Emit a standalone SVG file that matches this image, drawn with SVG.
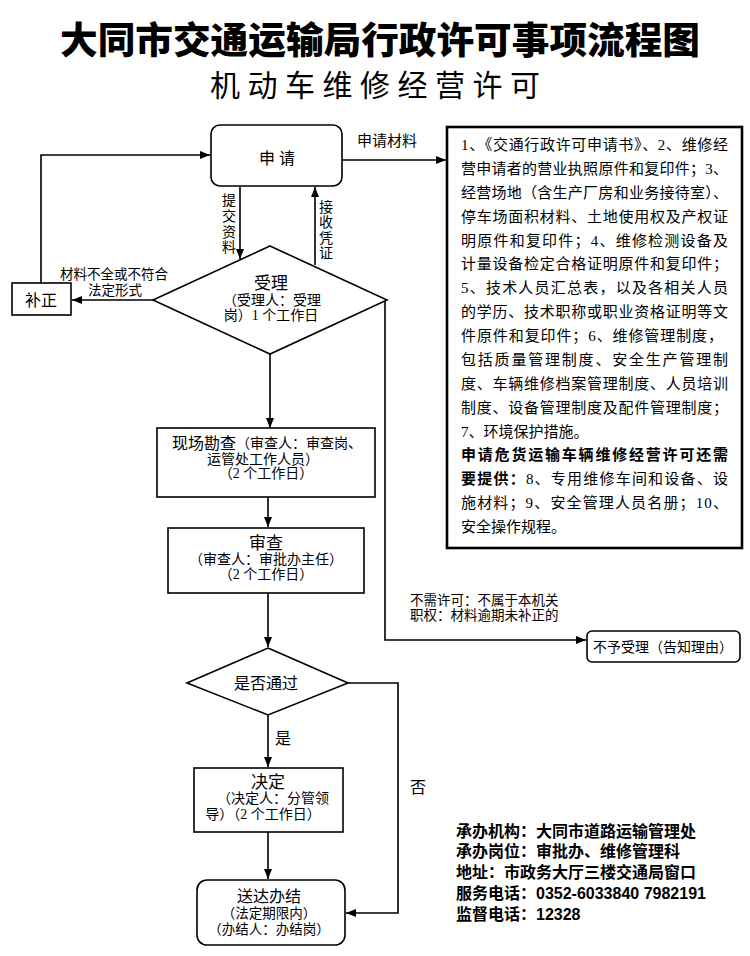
<svg xmlns="http://www.w3.org/2000/svg" width="750" height="956" viewBox="0 0 750 956">
<defs>
<marker id="arr" viewBox="0 0 10 8" refX="10" refY="4" markerWidth="10" markerHeight="8" markerUnits="userSpaceOnUse" orient="auto">
<path d="M0,0 L10,4 L0,8 z" fill="#000"/>
</marker>
</defs>
<style>
text{font-family:"Liberation Serif","Noto Sans CJK SC",serif;fill:#000;dominant-baseline:central}
.t{font-size:14px;text-anchor:middle}
.h{font-size:17px;text-anchor:middle}
.box{fill:#fff;stroke:#000;stroke-width:1.6}
.ln{fill:none;stroke:#000;stroke-width:1.6}
.ar{fill:none;stroke:#000;stroke-width:1.6;marker-end:url(#arr)}
.body{font-size:15px}
.info{font-family:"Liberation Sans","Noto Sans CJK SC",sans-serif;font-size:16px;font-weight:bold}
</style>
<rect width="750" height="956" fill="#fff"/>
<g id="title">
<text x="380" y="38" style="font-family:'Noto Sans CJK SC',sans-serif;font-size:37px;font-weight:900;text-anchor:middle" textLength="640" lengthAdjust="spacingAndGlyphs">大同市交通运输局行政许可事项流程图</text>
<text x="375" y="83" style="font-family:'Noto Sans CJK SC',sans-serif;font-size:30px;text-anchor:middle" textLength="330">机动车维修经营许可</text>
</g>
<g id="connectors">
<line class="ar" x1="342" y1="160" x2="446" y2="160"/>
<text x="387" y="141" style="font-size:15px;text-anchor:middle">申请材料</text>
<line class="ar" x1="240" y1="187" x2="240" y2="259"/>
<text class="t" x="229" y="200">提</text><text class="t" x="229" y="216">交</text><text class="t" x="229" y="232">资</text><text class="t" x="229" y="247">料</text>
<line class="ar" x1="315" y1="265" x2="315" y2="187"/>
<text class="t" x="326" y="207">接</text><text class="t" x="326" y="222">收</text><text class="t" x="326" y="238">凭</text><text class="t" x="326" y="253">证</text>
<line class="ar" x1="153" y1="300" x2="72" y2="300"/>
<text x="114" y="274" style="font-size:13.5px;text-anchor:middle">材料不全或不符合</text>
<text x="115" y="290" style="font-size:13.5px;text-anchor:middle">法定形式</text>
<polyline class="ar" points="41,283 41,155 210,155"/>
<line class="ar" x1="270" y1="354" x2="270" y2="428"/>
<polyline class="ar" points="387,300 385,300 385,640 586,640"/>
<text x="410" y="600" style="font-size:13.5px">不需许可：不属于本机关</text>
<text x="410" y="615" style="font-size:13.5px">职权：材料逾期未补正的</text>
<line class="ar" x1="268" y1="497" x2="268" y2="527"/>
<line class="ar" x1="268" y1="593" x2="268" y2="647"/>
<line class="ar" x1="268" y1="715" x2="268" y2="767"/>
<text x="283" y="738" style="font-size:16px;text-anchor:middle">是</text>
<line class="ar" x1="268" y1="832" x2="268" y2="879"/>
<polyline class="ar" points="348,683 398,683 398,913 346,913"/>
<text x="418" y="787" style="font-size:16px;text-anchor:middle">否</text>
</g>
<g id="apply">
<rect class="box" x="211" y="125" width="131" height="61" rx="9"/>
<text class="h" x="277" y="158" style="font-size:16px">申 请</text>
</g>
<g id="materials">
<rect x="447" y="127" width="295" height="421" fill="#fff" stroke="#000" stroke-width="2.6"/>
<g class="body">
<text x="461" y="145" textLength="267" lengthAdjust="spacing">1、《交通行政许可申请书》、2、维修经</text>
<text x="461" y="169" textLength="267" lengthAdjust="spacing">营申请者的营业执照原件和复印件；3、</text>
<text x="461" y="193" textLength="267" lengthAdjust="spacing">经营场地（含生产厂房和业务接待室）、</text>
<text x="461" y="217" textLength="267" lengthAdjust="spacing">停车场面积材料、土地使用权及产权证</text>
<text x="461" y="241" textLength="267" lengthAdjust="spacing">明原件和复印件；4、维修检测设备及</text>
<text x="461" y="264" textLength="267" lengthAdjust="spacing">计量设备检定合格证明原件和复印件；</text>
<text x="461" y="288" textLength="267" lengthAdjust="spacing">5、技术人员汇总表，以及各相关人员</text>
<text x="461" y="312" textLength="267" lengthAdjust="spacing">的学历、技术职称或职业资格证明等文</text>
<text x="461" y="336" textLength="262" lengthAdjust="spacing">件原件和复印件；6、维修管理制度，</text>
<text x="461" y="360" textLength="267" lengthAdjust="spacing">包括质量管理制度、安全生产管理制</text>
<text x="461" y="384" textLength="267" lengthAdjust="spacing">度、车辆维修档案管理制度、人员培训</text>
<text x="461" y="408" textLength="267" lengthAdjust="spacing">制度、设备管理制度及配件管理制度；</text>
<text x="461" y="432">7、环境保护措施。</text>
<text x="461" y="455" textLength="267" lengthAdjust="spacing" font-weight="bold">申请危货运输车辆维修经营许可还需</text>
<text x="461" y="479" textLength="267" lengthAdjust="spacing"><tspan font-weight="bold">要提供：</tspan>8、专用维修车间和设备、设</text>
<text x="461" y="503" textLength="267" lengthAdjust="spacing">施材料；9、安全管理人员名册；10、</text>
<text x="461" y="527">安全操作规程。</text>
</g>
</g>
<g id="accept">
<polygon class="box" points="270,246 387,300 270,354 153,300"/>
<text class="h" x="271" y="283">受理</text>
<text class="t" x="272" y="300">（受理人：受理</text>
<text class="t" x="271" y="315">岗）1 个工作日</text>
</g>
<g id="correct">
<rect class="box" x="12" y="283" width="59" height="32"/>
<text class="h" x="41" y="300" style="font-size:16px">补正</text>
</g>
<g id="inspect">
<rect class="box" x="157" y="428" width="218" height="69"/>
<text x="172" y="443" style="font-size:16px">现场勘查<tspan style="font-size:14px">（审查人：审查岗、</tspan></text>
<text class="t" x="263" y="459">运管处工作人员）</text>
<text class="t" x="266" y="473">（2 个工作日）</text>
</g>
<g id="review">
<rect class="box" x="168" y="528" width="196" height="65"/>
<text class="h" x="266" y="543">审查</text>
<text class="t" x="266" y="559">（审查人：审批办主任）</text>
<text class="t" x="266" y="574">（2 个工作日）</text>
</g>
<g id="reject">
<rect class="box" x="587" y="631" width="153" height="31" rx="5"/>
<text class="t" x="663" y="647">不予受理（告知理由）</text>
</g>
<g id="pass">
<polygon class="box" points="268,648 348,683 268,715 187,683"/>
<text x="266" y="683" style="font-size:16px;text-anchor:middle">是否通过</text>
</g>
<g id="decide">
<rect class="box" x="194" y="768" width="149" height="64"/>
<text class="h" x="268" y="782">决定</text>
<text class="t" x="273" y="798">（决定人：分管领</text>
<text class="t" x="263" y="814">导）（2 个工作日）</text>
</g>
<g id="deliver">
<rect class="box" x="197" y="880" width="148" height="65" rx="10"/>
<text class="h" x="269" y="896" style="font-size:16px">送达办结</text>
<text class="t" x="269" y="913" style="font-size:13.5px">（法定期限内）</text>
<text class="t" x="269" y="929" style="font-size:13.5px">（办结人：办结岗）</text>
</g>
<g id="info">
<text class="info" x="456" y="831">承办机构：大同市道路运输管理处</text>
<text class="info" x="456" y="851">承办岗位：审批办、维修管理科</text>
<text class="info" x="456" y="872">地址：市政务大厅三楼交通局窗口</text>
<text class="info" x="456" y="893">服务电话：0352-6033840  7982191</text>
<text class="info" x="456" y="914">监督电话：12328</text>
</g>
</svg>
